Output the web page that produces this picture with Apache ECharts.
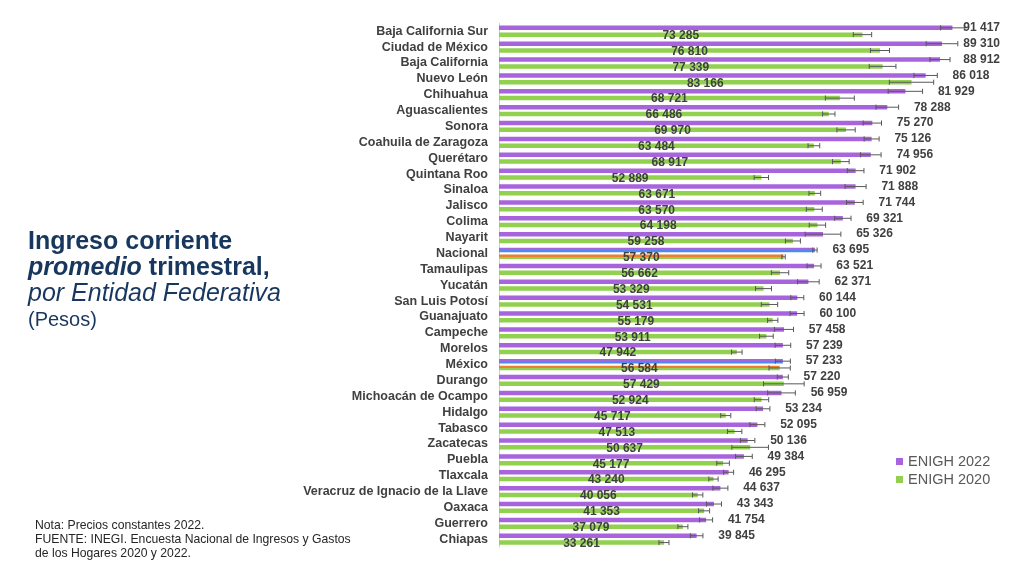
<!DOCTYPE html>
<html>
<head>
<meta charset="utf-8">
<script src="https://cdn.jsdelivr.net/npm/echarts@6/dist/echarts.min.js"></script>
<style>
html,body{margin:0;padding:0;background:#fff;}
#chart{width:1024px;height:569px;}
</style>
</head>
<body>
<div id="chart"></div>
<script>
const categories = ["Baja California Sur","Ciudad de México","Baja California","Nuevo León","Chihuahua","Aguascalientes","Sonora","Coahuila de Zaragoza","Querétaro","Quintana Roo","Sinaloa","Jalisco","Colima","Nayarit","Nacional","Tamaulipas","Yucatán","San Luis Potosí","Guanajuato","Campeche","Morelos","México","Durango","Michoacán de Ocampo","Hidalgo","Tabasco","Zacatecas","Puebla","Tlaxcala","Veracruz de Ignacio de la Llave","Oaxaca","Guerrero","Chiapas"];
const enigh2022 = [91417,89310,88912,86018,81929,78288,75270,75126,74956,71902,71888,71744,69321,65326,63695,63521,62371,60144,60100,57458,57239,57233,57220,56959,53234,52095,50136,49384,46295,44637,43343,41754,39845];
const enigh2020 = [73285,76810,77339,83166,68721,66486,69970,63484,68917,52889,63671,63570,64198,59258,57370,56662,53329,54531,55179,53911,47942,56584,57429,52924,45717,47513,50637,45177,43240,40056,41353,37079,33261];
const err2022 = [2400,3190,2020,2350,3470,2280,1850,1510,2080,1680,2120,1680,1650,3600,440,1410,2180,1310,1410,1920,1580,1510,1110,2790,1380,1510,1450,1680,1010,1510,1510,1310,1270];
const err2020 = [1850,1920,2690,4470,2920,1250,1850,1180,1680,1450,1180,1610,1650,1510,340,1750,1610,1650,1040,1380,1070,2150,4100,1450,1010,1450,3690,1270,940,1040,1110,1010,1010];
const highlighted = ["Nacional","México"];
const seriesNames = ["ENIGH 2022","ENIGH 2020"];

const FONT = "'Liberation Sans', Arial, sans-serif";
const PURPLE = '#a864dc', GREEN = '#92d050', BLUE = '#4d8af0', ORANGE = '#ed7d31';
const TXT = '#404040';
const NAVY = '#17375e';

function fmt(v){ return String(v).replace(/\B(?=(\d{3})+(?!\d))/g,' '); }
function split(a,b,p){
  return new echarts.graphic.LinearGradient(0,0,0,1,[
    {offset:0,color:a},{offset:p,color:a},{offset:p,color:b},{offset:1,color:b}]);
}

const bar2022 = enigh2022.map((v,i)=> highlighted.includes(categories[i]) ? {value:v,itemStyle:{color:split(PURPLE,BLUE,0.4)}} : v);
const bar2020 = enigh2020.map((v,i)=> highlighted.includes(categories[i]) ? {value:v,itemStyle:{color:split(ORANGE,GREEN,0.6)}} : v);
const errData2022 = enigh2022.map((v,i)=>[i, v-err2022[i], v+err2022[i], v]);
const errData2020 = enigh2020.map((v,i)=>[i, v-err2020[i], v+err2020[i], v]);

function errRender(offset, withLabel){
  return function(params, api){
    const yi = api.value(0);
    const lo = api.coord([api.value(1), yi]);
    const hi = api.coord([api.value(2), yi]);
    const y = lo[1] + offset;
    const h = 2.6;
    const st = {stroke:'#595959', lineWidth:1};
    const children = [
      {type:'line', shape:{x1:lo[0],y1:y,x2:hi[0],y2:y}, style:st},
      {type:'line', shape:{x1:lo[0],y1:y-h,x2:lo[0],y2:y+h}, style:st},
      {type:'line', shape:{x1:hi[0],y1:y-h,x2:hi[0],y2:y+h}, style:st}
    ];
    if(withLabel){
      const cs = params.coordSys;
      const right = Math.min(hi[0] + 15 + 37, cs.x + cs.width + 5);
      children.push({type:'text', style:{x:right, y:y, text:fmt(api.value(3)), fill:TXT,
        font:'bold 12px '+FONT, textAlign:'right', textVerticalAlign:'middle'}});
    }
    return {type:'group', children};
  };
}

const chart = echarts.init(document.getElementById('chart'), null, {renderer:'canvas'});
chart.setOption({
  animation:false,
  backgroundColor:'#fff',
  textStyle:{fontFamily:FONT},
  title:{
    left:28, top:229, padding:0,
    text:'{a|Ingreso corriente}\n{b|promedio}{a| trimestral,}\n{c|por Entidad Federativa}\n{d|(Pesos)}',
    textStyle:{fontWeight:'normal', rich:{
      a:{fontSize:25,fontWeight:'bold',color:NAVY,fontFamily:FONT,lineHeight:26},
      b:{fontSize:25,fontWeight:'bold',fontStyle:'italic',color:NAVY,fontFamily:FONT,lineHeight:26},
      c:{fontSize:25,fontWeight:'normal',fontStyle:'italic',color:NAVY,fontFamily:FONT,lineHeight:27},
      d:{fontSize:20,fontWeight:'normal',color:NAVY,fontFamily:FONT,lineHeight:25}
    }}
  },
  legend:{
    data:seriesNames, orient:'vertical', left:891, top:449,
    itemWidth:7, itemHeight:7, itemGap:3, icon:'rect',
    textStyle:{fontSize:14.5,color:'#595959',fontFamily:FONT}
  },
  graphic:[{
    type:'text', left:35, top:519,
    style:{text:'Nota: Precios constantes 2022.\nFUENTE: INEGI. Encuesta Nacional de Ingresos y Gastos\nde los Hogares 2020 y 2022.',
      font:'12.2px '+FONT, fill:'#262626', lineHeight:14}
  }],
  grid:{left:499, right:29, top:23.3, bottom:21.9, containLabel:false},
  xAxis:{type:'value', min:0, max:100000, show:false},
  yAxis:{type:'category', data:categories, inverse:true,
    axisLine:{lineStyle:{color:'#d0d0d0'}},
    axisTick:{length:4, lineStyle:{color:'#d0d0d0'}},
    axisLabel:{interval:0, margin:11, fontSize:12.5, fontWeight:'bold', color:TXT, fontFamily:FONT}
  },
  series:[
    {name:seriesNames[0], type:'bar', data:bar2022, barWidth:4.5, barGap:'51%', itemStyle:{color:PURPLE}},
    {name:seriesNames[1], type:'bar', data:bar2020, barWidth:4.5, barGap:'51%', itemStyle:{color:GREEN},
      label:{show:true, position:'inside', offset:[0,1], formatter:p=>fmt(p.value), color:TXT,
        fontSize:12, fontWeight:'bold', fontFamily:FONT, textBorderWidth:0}},
    {type:'custom', name:'err2022', data:errData2022, encode:{x:[1,2], y:0}, z:5,
      renderItem:errRender(-3.4, true)},
    {type:'custom', name:'err2020', data:errData2020, encode:{x:[1,2], y:0}, z:5,
      renderItem:errRender(3.4, false)}
  ]
});
</script>
</body>
</html>
